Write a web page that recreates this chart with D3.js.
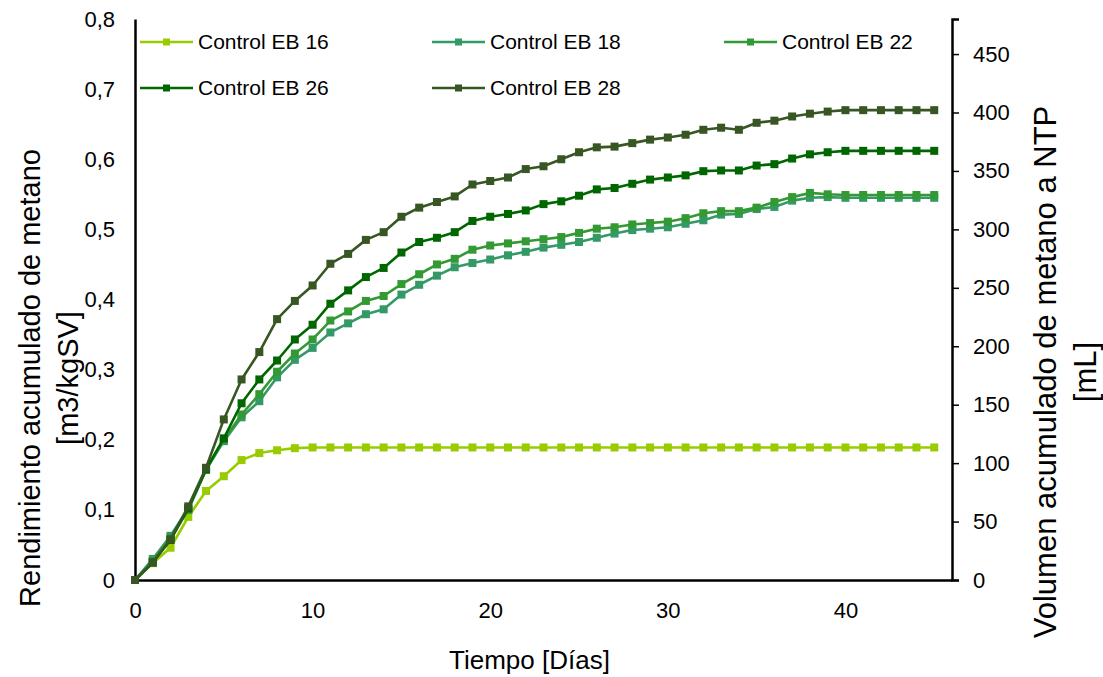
<!DOCTYPE html>
<html>
<head>
<meta charset="utf-8">
<script src="https://cdn.jsdelivr.net/npm/d3@7"></script>
<style>
  html, body { margin: 0; padding: 0; background: #fff; }
  svg { display: block; font-family: "Liberation Sans", Arial, sans-serif; }
</style>
</head>
<body>
<svg id="chart" width="1103" height="677"></svg>
<script>
// Days of digestion (x values)
const days = [0,1,2,3,4,5,6,7,8,9,10,11,12,13,14,15,16,17,18,19,20,21,22,23,24,25,26,27,28,29,30,31,32,33,34,35,36,37,38,39,40,41,42,43,44,45];

// Cumulative methane yield, m3/kgSV
const eb16 = [0,0.024,0.046,0.090,0.127,0.148,0.171,0.181,0.185,0.188,0.189,0.189,0.189,0.189,0.189,0.189,0.189,0.189,0.189,0.189,0.189,0.189,0.189,0.189,0.189,0.189,0.189,0.189,0.189,0.189,0.189,0.189,0.189,0.189,0.189,0.189,0.189,0.189,0.189,0.189,0.189,0.189,0.189,0.189,0.189,0.189];
const eb18 = [0,0.030,0.063,0.102,0.157,0.198,0.232,0.255,0.289,0.314,0.331,0.353,0.366,0.379,0.386,0.407,0.421,0.434,0.446,0.452,0.457,0.463,0.468,0.474,0.478,0.482,0.488,0.494,0.499,0.501,0.503,0.508,0.513,0.521,0.522,0.529,0.532,0.541,0.545,0.546,0.545,0.545,0.545,0.545,0.545,0.545];
const eb22 = [0,0.027,0.060,0.100,0.157,0.200,0.236,0.265,0.297,0.323,0.343,0.370,0.383,0.398,0.405,0.422,0.436,0.450,0.458,0.471,0.477,0.480,0.483,0.486,0.489,0.495,0.501,0.503,0.507,0.509,0.511,0.516,0.523,0.526,0.526,0.531,0.539,0.546,0.552,0.550,0.549,0.549,0.549,0.549,0.549,0.549];
const eb26 = [0,0.025,0.057,0.102,0.158,0.202,0.252,0.286,0.313,0.343,0.364,0.394,0.413,0.432,0.445,0.467,0.482,0.488,0.496,0.512,0.518,0.522,0.527,0.536,0.540,0.548,0.557,0.559,0.565,0.571,0.574,0.577,0.583,0.584,0.584,0.591,0.593,0.601,0.607,0.610,0.612,0.612,0.612,0.612,0.612,0.612];
const eb28 = [0,0.025,0.058,0.105,0.160,0.229,0.286,0.325,0.372,0.398,0.420,0.451,0.465,0.485,0.496,0.518,0.531,0.539,0.547,0.564,0.569,0.574,0.586,0.590,0.600,0.610,0.617,0.618,0.623,0.628,0.631,0.635,0.642,0.645,0.642,0.652,0.655,0.661,0.665,0.668,0.670,0.670,0.670,0.670,0.670,0.670];

const seriesNames = ["Control EB 16","Control EB 18","Control EB 22","Control EB 26","Control EB 28"];
const seriesColors = ["#99CC00","#339966","#339933","#006600","#375623"];

// Axis ticks
const xTicks = [0,10,20,30,40];
const yLeftTicks = [0,0.1,0.2,0.3,0.4,0.5,0.6,0.7,0.8];
const yRightTicks = [0,50,100,150,200,250,300,350,400,450];

const series = [eb16, eb18, eb22, eb26, eb28].map((vals, i) => ({
  name: seriesNames[i],
  color: seriesColors[i],
  points: days.map((d, j) => ({ x: d, y: vals[j] }))
}));

const svg = d3.select("#chart");
const plot = { left: 135, right: 952, top: 19, bottom: 580 };

const x = d3.scaleLinear().domain([0, 46]).range([plot.left, plot.right]);
const yL = d3.scaleLinear().domain([0, 0.8]).range([plot.bottom, plot.top]);
const yR = d3.scaleLinear().domain([0, 480]).range([plot.bottom, plot.top]);

const esLocale = d3.formatLocale({ decimal: ",", thousands: ".", grouping: [3], currency: ["", "€"] });
const fmt1 = esLocale.format(".1f");

const tickFont = "22px";

// Bottom axis
const gx = svg.append("g")
  .attr("transform", `translate(0,${plot.bottom})`)
  .call(d3.axisBottom(x).tickValues(xTicks).tickSize(0).tickPadding(22).tickFormat(d3.format("d")));
gx.select(".domain").attr("stroke", "#000").attr("stroke-width", 2.5);
gx.selectAll("text").attr("font-size", tickFont).attr("fill", "#000").attr("font-family", "Liberation Sans, Arial, sans-serif");

// Left axis
const gl = svg.append("g")
  .attr("transform", `translate(${plot.left},0)`)
  .call(d3.axisLeft(yL).tickValues(yLeftTicks).tickSize(0).tickPadding(20)
    .tickFormat(d => d === 0 ? "0" : fmt1(d)));
gl.select(".domain").attr("stroke", "#000").attr("stroke-width", 2.5);
gl.selectAll("text").attr("font-size", tickFont).attr("fill", "#000").attr("font-family", "Liberation Sans, Arial, sans-serif");

// Right axis
const gr = svg.append("g")
  .attr("transform", `translate(${plot.right},0)`)
  .call(d3.axisRight(yR).tickValues(yRightTicks).tickSize(7).tickPadding(14).tickFormat(d3.format("d")));
gr.select(".domain").attr("stroke", "#000").attr("stroke-width", 2.5);
gr.selectAll(".tick line").attr("stroke", "#000").attr("stroke-width", 1.5);
gr.selectAll("text").attr("font-size", tickFont).attr("fill", "#000").attr("font-family", "Liberation Sans, Arial, sans-serif");

// Series lines and square markers
const line = d3.line().x(d => x(d.x)).y(d => yL(d.y));
const sg = svg.append("g");
series.forEach(s => {
  const g = sg.append("g");
  g.append("path")
    .datum(s.points)
    .attr("fill", "none")
    .attr("stroke", s.color)
    .attr("stroke-width", 2.6)
    .attr("stroke-linejoin", "round")
    .attr("d", line);
  g.selectAll("rect")
    .data(s.points)
    .join("rect")
    .attr("x", d => x(d.x) - 4)
    .attr("y", d => yL(d.y) - 4)
    .attr("width", 8)
    .attr("height", 8)
    .attr("fill", s.color);
});

// Legend (3 columns x 2 rows)
const legend = svg.append("g");
series.forEach((s, i) => {
  const col = i % 3, row = Math.floor(i / 3);
  const lx = 140 + col * 292, ly = 42 + row * 46;
  const g = legend.append("g").attr("transform", `translate(${lx},${ly})`);
  g.append("line").attr("x1", 0).attr("x2", 53).attr("y1", 0).attr("y2", 0)
    .attr("stroke", s.color).attr("stroke-width", 2.6);
  g.append("rect").attr("x", 23).attr("y", -3.5).attr("width", 7).attr("height", 7).attr("fill", s.color);
  g.append("text").attr("x", 58).attr("y", 0).attr("dy", "0.35em")
    .attr("font-size", "21px").attr("fill", "#000").text(s.name);
});

// Axis titles
svg.append("text")
  .attr("x", (plot.left + plot.right) / 2 - 14).attr("y", 669)
  .attr("text-anchor", "middle").attr("font-size", "26px").attr("fill", "#000")
  .text("Tiempo [Días]");

const leftTitle = svg.append("text")
  .attr("transform", "translate(0,378) rotate(-90)")
  .attr("text-anchor", "middle").attr("font-size", "29px").attr("fill", "#000");
leftTitle.append("tspan").attr("x", 0).attr("y", 40).text("Rendimiento acumulado de metano");
leftTitle.append("tspan").attr("x", 0).attr("y", 78).text("[m3/kgSV]");

const rightTitle = svg.append("text")
  .attr("transform", "translate(0,372) rotate(-90)")
  .attr("text-anchor", "middle").attr("font-size", "31px").attr("fill", "#000");
rightTitle.append("tspan").attr("x", 0).attr("y", 1056).text("Volumen acumulado de metano a NTP");
rightTitle.append("tspan").attr("x", 0).attr("y", 1096).text("[mL]");
</script>
</body>
</html>
